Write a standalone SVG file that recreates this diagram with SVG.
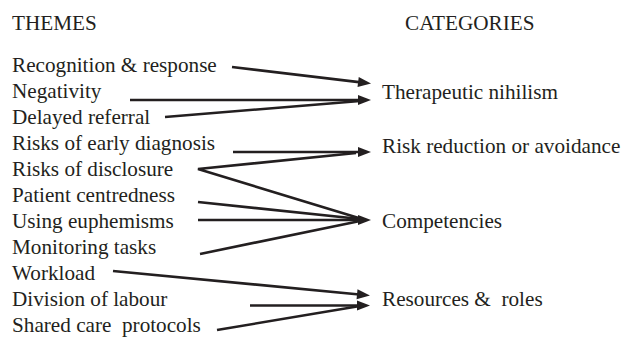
<svg xmlns="http://www.w3.org/2000/svg" width="623" height="337" viewBox="0 0 623 337">
<style>
text{font-family:"Liberation Serif","Times New Roman",serif;font-size:21.2px;fill:#231f20;white-space:pre}
.c line,.c polyline{stroke:#231f20;stroke-width:2.6;fill:none}
.a{marker-end:url(#ah)}
</style>
<defs>
<marker id="ah" markerUnits="userSpaceOnUse" markerWidth="14" markerHeight="11" refX="5" refY="5" orient="auto" overflow="visible">
<path d="M0,0 L13,5 L0,10 z" fill="#231f20"/>
</marker>
</defs>
<rect width="623" height="337" fill="#fff"/>
<g id="hdr-themes"><text x="12" y="30">THEMES</text></g>
<g id="hdr-categories"><text x="405" y="30">CATEGORIES</text></g>
<g id="t-recognition"><text x="12" y="72">Recognition &amp; response</text></g>
<g id="t-negativity"><text x="12" y="98">Negativity</text></g>
<g id="t-delayed"><text x="12" y="124">Delayed referral</text></g>
<g id="t-early"><text x="12" y="150">Risks of early diagnosis</text></g>
<g id="t-disclosure"><text x="12" y="176">Risks of disclosure</text></g>
<g id="t-patient"><text x="12" y="202">Patient centredness</text></g>
<g id="t-euphemisms"><text x="12" y="228">Using euphemisms</text></g>
<g id="t-monitoring"><text x="12" y="254">Monitoring tasks</text></g>
<g id="t-workload"><text x="12" y="280">Workload</text></g>
<g id="t-division"><text x="12" y="306">Division of labour</text></g>
<g id="t-shared"><text x="12" y="332">Shared care  protocols</text></g>
<g id="c-nihilism"><text x="382" y="99">Therapeutic nihilism</text></g>
<g id="c-risk"><text x="382" y="153">Risk reduction or avoidance</text></g>
<g id="c-competencies"><text x="382" y="228">Competencies</text></g>
<g id="c-resources"><text x="382" y="306">Resources &amp;  roles</text></g>
<g id="connectors" class="c">
<line class="a" x1="232" y1="67" x2="363.1" y2="82.6"/>
<line class="a" x1="130" y1="100" x2="363" y2="100"/>
<line x1="165" y1="117" x2="360" y2="101"/>
<line class="a" x1="233" y1="152" x2="363" y2="152"/>
<polyline points="356,153 198,169 362,219"/>
<line x1="198" y1="202" x2="360" y2="219"/>
<line class="a" x1="198" y1="220" x2="363" y2="220"/>
<line x1="200" y1="254" x2="360" y2="221"/>
<line class="a" x1="113" y1="271" x2="362" y2="294.7"/>
<line class="a" x1="250" y1="305.5" x2="362" y2="305.5"/>
<line x1="217" y1="330" x2="360" y2="306"/>
</g>
</svg>
